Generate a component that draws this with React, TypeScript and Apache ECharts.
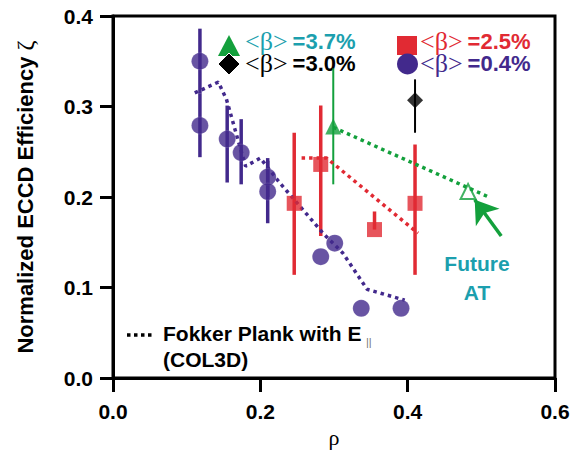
import React, { useEffect, useRef } from "react";
import * as echarts from "echarts";

// ---------- data ----------
const xTicks = [0, 0.2, 0.4, 0.6];
const yTicks = [0, 0.1, 0.2, 0.3, 0.4];

// <β> = 0.4% (purple circles)
const purpleX = [0.118, 0.118, 0.155, 0.174, 0.21, 0.21, 0.282, 0.301, 0.337, 0.391];
const purpleY = [0.35, 0.279, 0.264, 0.249, 0.222, 0.206, 0.134, 0.149, 0.077, 0.077];
const purpleLow = [0.314, 0.244, 0.216, 0.214, 0.2, 0.171, null, null, null, null];
const purpleHigh = [0.386, 0.314, 0.301, 0.286, 0.243, 0.24, null, null, null, null];

// <β> = 2.5% (red squares)
const redX = [0.246, 0.282, 0.355, 0.41];
const redY = [0.193, 0.236, 0.164, 0.193];
const redLow = [0.114, 0.157, 0.164, 0.114];
const redHigh = [0.271, 0.301, 0.184, 0.258];

// <β> = 3.7% (green triangle)
const greenX = [0.299];
const greenY = [0.278];
const greenLow = [0.214];
const greenHigh = [0.342];

// <β> = 3.0% (black diamond)
const blackX = [0.41];
const blackY = [0.307];
const blackLow = [0.271];
const blackHigh = [0.33];

// Future AT (open triangle)
const futureX = [0.482];
const futureY = [0.206];

// Fokker Planck (COL3D) dotted curves
const fpX = [0.111, 0.143, 0.154, 0.162, 0.17, 0.18, 0.2, 0.226, 0.262, 0.285, 0.312, 0.345, 0.396];
const fpY = [0.315, 0.327, 0.308, 0.285, 0.262, 0.234, 0.243, 0.216, 0.182, 0.16, 0.138, 0.098, 0.086];
const redLineX = [0.256, 0.29, 0.414];
const redLineY = [0.243, 0.243, 0.16];
const greenLineX = [0.299, 0.51];
const greenLineY = [0.277, 0.2];

// arrow pointing to Future AT
const arrowFrom = [0.527, 0.157];
const arrowTo = [0.491, 0.197];

// ---------- styles ----------
const PURPLE = "#42298c";
const RED = "#e12a33";
const GREEN = "#13a03c";
const TEAL = "#1c9fae";
const SANS = "Liberation Sans";
const SERIF = "Liberation Serif";

const zip = (xs: number[], ys: number[]) => xs.map((x, i) => [x, ys[i]]);
const bars = (xs: number[], lo: (number | null)[], hi: (number | null)[]) =>
  xs.map((x, i) => [x, lo[i], hi[i]]).filter((d) => d[1] != null);

function errSeries(data: any[], color: string, width: number) {
  return {
    type: "custom",
    data,
    encode: { x: 0, y: [1, 2] },
    silent: true,
    z: 2,
    renderItem: (_p: any, api: any) => {
      const a = api.coord([api.value(0), api.value(1)]);
      const b = api.coord([api.value(0), api.value(2)]);
      return {
        type: "line",
        shape: { x1: a[0], y1: a[1], x2: b[0], y2: b[1] },
        style: { stroke: color, lineWidth: width },
      };
    },
  };
}

function dotted(xs: number[], ys: number[], color: string) {
  return {
    type: "line",
    data: zip(xs, ys),
    symbol: "none",
    silent: true,
    z: 3,
    lineStyle: { color, width: 3.5, type: [3.5, 4], cap: "butt" },
  };
}

function legendText(x: number, y: number, color: string, value: string) {
  return {
    type: "text",
    x,
    y,
    style: {
      text: "{s|<β>}{b|" + value + "}",
      verticalAlign: "middle",
      align: "left",
      rich: {
        s: { fontFamily: SERIF, fontSize: 26, lineHeight: 20, fill: color, padding: [0, 5, 0, 0] },
        b: { fontFamily: SANS, fontWeight: "bold", fontSize: 22, lineHeight: 20, fill: color },
      },
    },
  };
}

export default function App() {
  const ref = useRef<HTMLDivElement>(null);
  useEffect(() => {
    if (!ref.current) return;
    const chart = echarts.init(ref.current, null, { renderer: "svg" });
    chart.setOption({
      animation: false,
      backgroundColor: "#fff",
      grid: {
        left: 113,
        right: 26,
        top: 16,
        bottom: 72,
        show: true,
        borderColor: "#000",
        borderWidth: 3,
        backgroundColor: "transparent",
        containLabel: false,
        outerBoundsMode: "none",
      },
      xAxis: {
        type: "value",
        min: xTicks[0],
        max: xTicks[xTicks.length - 1],
        interval: 0.2,
        name: "ρ",
        nameLocation: "middle",
        nameGap: 45,
        nameTextStyle: { fontFamily: SERIF, fontSize: 22, color: "#000" },
        axisLine: { show: true, lineStyle: { color: "#000", width: 3 } },
        axisTick: { show: true, length: 14, lineStyle: { color: "#000", width: 3 } },
        axisLabel: {
          margin: 23,
          fontFamily: SANS,
          fontWeight: "bold",
          fontSize: 21,
          color: "#000",
          formatter: (v: number) => v.toFixed(1),
        },
        splitLine: { show: false },
      },
      yAxis: {
        type: "value",
        min: yTicks[0],
        max: yTicks[yTicks.length - 1],
        interval: 0.1,
        name: "Normalized ECCD Efficiency {z|ζ}",
        nameLocation: "middle",
        nameGap: 76,
        nameTextStyle: {
          fontFamily: SANS,
          fontWeight: "bold",
          fontSize: 22,
          color: "#000",
          rich: { z: { fontFamily: SERIF, fontWeight: "normal", fontSize: 24, color: "#000" } },
        },
        axisLine: { show: true, lineStyle: { color: "#000", width: 3 } },
        axisTick: { show: true, length: 13, lineStyle: { color: "#000", width: 3 } },
        axisLabel: {
          margin: 20,
          fontFamily: SANS,
          fontWeight: "bold",
          fontSize: 21,
          color: "#000",
          formatter: (v: number) => v.toFixed(1),
        },
        splitLine: { show: false },
      },
      series: [
        errSeries(bars(purpleX, purpleLow, purpleHigh), PURPLE, 3.5),
        errSeries(bars(redX, redLow, redHigh), RED, 3.5),
        errSeries(bars(greenX, greenLow, greenHigh), GREEN, 2),
        errSeries(bars(blackX, blackLow, blackHigh), "#000", 2),
        dotted(fpX, fpY, PURPLE),
        dotted(redLineX, redLineY, RED),
        {
          ...dotted(greenLineX, greenLineY, GREEN),
          markLine: {
            silent: true,
            animation: false,
            symbol: ["none", "arrow"],
            symbolSize: 22,
            label: { show: false },
            lineStyle: { color: GREEN, width: 3.5, type: "solid" },
            data: [[{ coord: arrowFrom }, { coord: arrowTo }]],
          },
        },
        {
          type: "scatter",
          data: zip(purpleX, purpleY),
          symbol: "circle",
          symbolSize: 17,
          z: 4,
          itemStyle: { color: PURPLE, borderColor: "rgba(255,255,255,0.15)", borderWidth: 1 },
        },
        {
          type: "scatter",
          data: zip(redX, redY),
          symbol: "rect",
          symbolSize: 15,
          z: 4,
          itemStyle: { color: RED },
        },
        {
          type: "scatter",
          data: zip(greenX, greenY),
          symbol: "triangle",
          symbolSize: 16,
          z: 4,
          itemStyle: { color: GREEN },
        },
        {
          type: "scatter",
          data: zip(blackX, blackY),
          symbol: "diamond",
          symbolSize: [16, 16],
          z: 4,
          itemStyle: { color: "#000" },
        },
        {
          type: "scatter",
          data: zip(futureX, futureY),
          symbol: "triangle",
          symbolSize: 15,
          z: 4,
          itemStyle: { color: "transparent", borderColor: GREEN, borderWidth: 2 },
        },
      ],
      graphic: [
        // legend markers
        { type: "polygon", shape: { points: [[229, 35], [240, 56], [218, 56]] }, style: { fill: GREEN }, z: 10 },
        { type: "polygon", shape: { points: [[229, 53], [240, 64], [229, 75], [218, 64]] }, style: { fill: "#000", stroke: "#fff", lineWidth: 1 }, z: 10 },
        { type: "rect", shape: { x: 397, y: 36, width: 20, height: 19 }, style: { fill: RED }, z: 10 },
        { type: "circle", shape: { cx: 407.5, cy: 64, r: 10.5 }, style: { fill: PURPLE }, z: 10 },
        legendText(245, 41, TEAL, "=3.7%"),
        legendText(245, 63, "#000", "=3.0%"),
        legendText(420, 41, RED, "=2.5%"),
        legendText(420, 63, PURPLE, "=0.4%"),
        // Fokker Planck annotation
        {
          type: "line",
          shape: { x1: 127, y1: 335, x2: 154, y2: 335 },
          style: { stroke: "#000", lineWidth: 3.5, lineDash: [3.5, 3.5] },
        },
        {
          type: "text",
          x: 163,
          y: 333,
          style: { text: "Fokker Plank with E", fontFamily: SANS, fontWeight: "bold", fontSize: 21, fill: "#000", verticalAlign: "middle" },
        },
        {
          type: "text",
          x: 366,
          y: 342,
          style: { text: "||", fontFamily: SANS, fontSize: 11, fill: "#777", verticalAlign: "middle" },
        },
        {
          type: "text",
          x: 163,
          y: 359,
          style: { text: "(COL3D)", fontFamily: SANS, fontWeight: "bold", fontSize: 21, fill: "#000", verticalAlign: "middle" },
        },
        // Future AT
        {
          type: "text",
          x: 477,
          y: 263,
          style: { text: "Future", fontFamily: SANS, fontWeight: "bold", fontSize: 21, fill: TEAL, align: "center", verticalAlign: "middle" },
        },
        {
          type: "text",
          x: 477,
          y: 292,
          style: { text: "AT", fontFamily: SANS, fontWeight: "bold", fontSize: 21, fill: TEAL, align: "center", verticalAlign: "middle" },
        },
      ],
    });
    return () => chart.dispose();
  }, []);
  return <div ref={ref} style={{ position: "fixed", left: 0, top: 0, width: 581, height: 450 }} />;
}
